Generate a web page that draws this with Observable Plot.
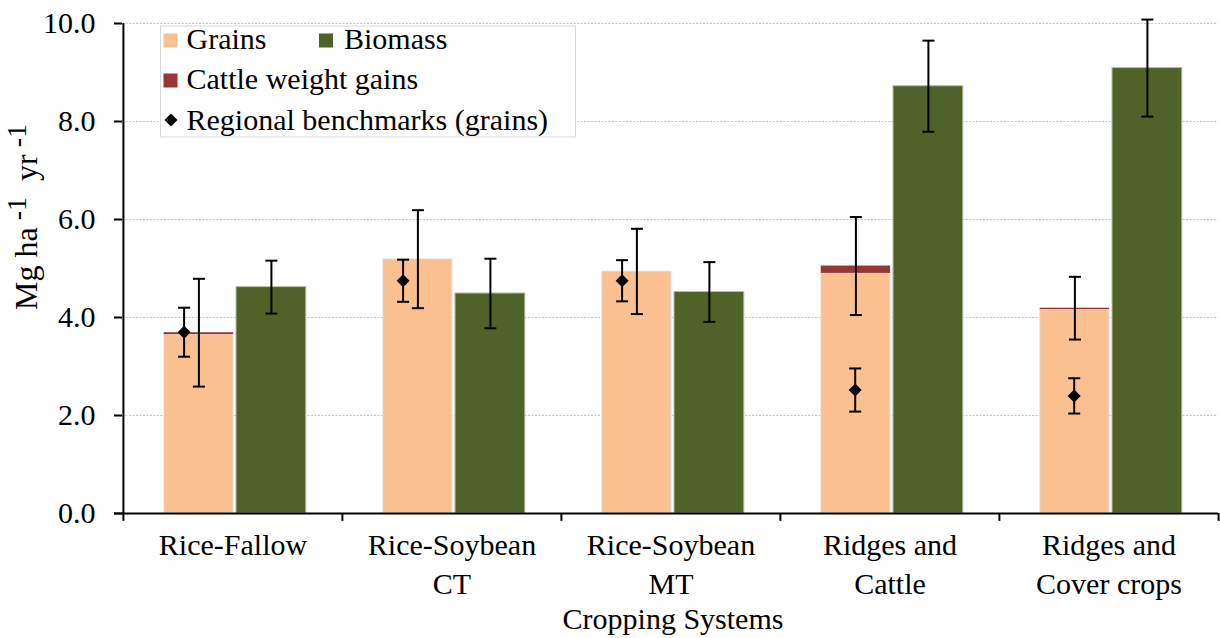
<!DOCTYPE html>
<html>
<head>
<meta charset="utf-8">
<script src="https://cdn.jsdelivr.net/npm/d3@7"></script>
<script src="https://cdn.jsdelivr.net/npm/@observablehq/plot@0.6"></script>
<style>
  html, body { margin: 0; padding: 0; background: #fff; }
  #chart { width: 1220px; height: 638px; }
  #chart svg, #chart svg text { font-family: "Liberation Serif", "Times New Roman", Tinos, "DejaVu Serif", serif !important; }
</style>
</head>
<body>
<div id="chart"></div>
<script>
// Cropping systems and their two-line axis labels
const systems = ["Rice-Fallow", "Rice-Soybean CT", "Rice-Soybean MT", "Ridges and Cattle", "Ridges and Cover crops"];
const systemLabels = ["Rice-Fallow", "Rice-Soybean\nCT", "Rice-Soybean\nMT", "Ridges and\nCattle", "Ridges and\nCover crops"];

// Yields, Mg ha-1 yr-1
const grains = [3.65, 5.19, 4.94, 4.90, 4.16];
const cattleGains = [0.04, 0, 0, 0.15, 0.03];
const grainErr = [1.10, 1.00, 0.87, 1.00, 0.64];   // error on grains + cattle total
const biomass = [4.62, 4.49, 4.52, 8.72, 9.09];
const biomassErr = [0.54, 0.71, 0.61, 0.93, 0.99];
const benchmarks = [3.70, 4.75, 4.75, 2.52, 2.40];
const benchmarkErr = [0.50, 0.43, 0.42, 0.44, 0.36];

const yTicks = [0, 2, 4, 6, 8, 10];

const colors = {grains: "#FAC090", biomass: "#4F6228", cattle: "#953735"};

const rows = systems.map((s, i) => ({
  system: s,
  label: systemLabels[i],
  grain: grains[i],
  cattle: cattleGains[i],
  total: grains[i] + cattleGains[i],
  grainErr: grainErr[i],
  biomass: biomass[i],
  biomassErr: biomassErr[i],
  bench: benchmarks[i],
  benchErr: benchmarkErr[i],
  idx: i
}));

const W = 1220, H = 638;
const M = {top: 23, right: 2, bottom: 125, left: 122};
const bw = (W - M.left - M.right) / systems.length;

// bar placement inside each category band (pixels from band start)
const grainIn = [40.7, 110.3], bioIn = [113, 183];
const grainDx = (grainIn[0] + grainIn[1]) / 2 - bw / 2;
const bioDx = (bioIn[0] + bioIn[1]) / 2 - bw / 2;
const benchDxA = 60.7 - bw / 2;   // shifted left of the grain error bar
const benchDxB = 74.8 - bw / 2;   // below the grain error bar

// symbols: a horizontal error-bar cap and a square diamond
const capSymbol = {draw(ctx, size) { const r = Math.sqrt(size / Math.PI); ctx.moveTo(-r, 0); ctx.lineTo(r, 0); }};
const diamondSymbol = {draw(ctx, size) { const r = Math.sqrt(size / Math.PI); ctx.moveTo(0, -r); ctx.lineTo(r, 0); ctx.lineTo(0, r); ctx.lineTo(-r, 0); ctx.closePath(); }};

function errorBar(data, center, err, dx) {
  return [
    Plot.ruleX(data, {x: "system", y1: d => center(d) - err(d), y2: d => center(d) + err(d), dx, stroke: "#000", strokeWidth: 2}),
    Plot.dot(data, {x: "system", y: d => center(d) + err(d), dx, symbol: capSymbol, r: 6, fill: "none", stroke: "#000", strokeWidth: 2}),
    Plot.dot(data, {x: "system", y: d => center(d) - err(d), dx, symbol: capSymbol, r: 6, fill: "none", stroke: "#000", strokeWidth: 2})
  ];
}

const benchA = rows.filter(d => d.idx < 3);
const benchB = rows.filter(d => d.idx >= 3);

const font = "'Liberation Serif', 'Times New Roman', Tinos, 'DejaVu Serif', serif";

const svgPlot = Plot.plot({
  width: W,
  height: H,
  marginTop: M.top,
  marginRight: M.right,
  marginBottom: M.bottom,
  marginLeft: M.left,
  x: {type: "band", domain: systems, padding: 0, axis: null},
  y: {domain: [0, 10], axis: null},
  style: {fontFamily: font, fontSize: "30px", background: "#fff", color: "#000", overflow: "visible"},
  marks: [
    // dotted horizontal gridlines
    Plot.ruleY(yTicks.filter(t => t > 0), {y: d => d, stroke: "#c4c4c4", strokeWidth: 1.2, strokeDasharray: "2,1.5"}),
    // bars
    Plot.barY(rows, {x: "system", y1: 0, y2: "grain", fill: colors.grains, insetLeft: grainIn[0], insetRight: bw - grainIn[1], stroke: "#ececec", strokeWidth: 1}),
    Plot.barY(rows.filter(d => d.cattle > 0), {x: "system", y1: "grain", y2: "total", fill: colors.cattle, insetLeft: grainIn[0], insetRight: bw - grainIn[1]}),
    Plot.barY(rows, {x: "system", y1: 0, y2: "biomass", fill: colors.biomass, insetLeft: bioIn[0], insetRight: bw - bioIn[1], stroke: "#b8bca8", strokeWidth: 1}),
    // error bars
    ...errorBar(rows, d => d.total, d => d.grainErr, grainDx),
    ...errorBar(rows, d => d.biomass, d => d.biomassErr, bioDx),
    ...errorBar(benchA, d => d.bench, d => d.benchErr, benchDxA),
    ...errorBar(benchB, d => d.bench, d => d.benchErr, benchDxB),
    // regional benchmark diamonds
    Plot.dot(benchA, {x: "system", y: "bench", dx: benchDxA, symbol: diamondSymbol, r: 6.5, fill: "#000", stroke: "none"}),
    Plot.dot(benchB, {x: "system", y: "bench", dx: benchDxB, symbol: diamondSymbol, r: 6.5, fill: "#000", stroke: "none"}),
    // axes
    Plot.ruleX([systems[0]], {x: d => d, dx: -bw / 2, y1: 0, y2: 10, stroke: "#000", strokeWidth: 2}),
    Plot.ruleY([0], {y: d => d, insetLeft: -8, stroke: "#000", strokeWidth: 2}),
    Plot.ruleY(yTicks, {y: d => d, insetLeft: -8, insetRight: W - M.left - M.right, stroke: "#000", strokeWidth: 2}),
    Plot.text(yTicks, {y: d => d, text: d => d.toFixed(1), frameAnchor: "left", dx: -27, textAnchor: "end", fill: "#000"}),
    Plot.ruleX(systems, {x: d => d, dx: -bw / 2, y1: 0, y2: -0.16, stroke: "#000", strokeWidth: 2}),
    Plot.ruleX([systems[systems.length - 1]], {x: d => d, dx: bw / 2, y1: 0, y2: -0.16, stroke: "#000", strokeWidth: 2}),
    Plot.text(rows, {x: "system", y: 0, text: "label", lineAnchor: "top", dy: 14, lineHeight: 1.29, fill: "#000"})
  ]
});

document.getElementById("chart").appendChild(svgPlot);

const svg = d3.select(svgPlot);

// axis titles
const yTitle = svg.append("text")
  .attr("transform", "translate(37,217) rotate(-90)")
  .attr("text-anchor", "middle")
  .attr("fill", "#000")
  .attr("xml:space", "preserve")
  .style("white-space", "pre")
  .style("font-size", "32px");
yTitle.append("tspan").text("Mg ha");
yTitle.append("tspan").attr("dy", -11).style("font-size", "28px").text(" -1");
yTitle.append("tspan").attr("dy", 11).text("  yr");
yTitle.append("tspan").attr("dy", -11).style("font-size", "28px").text(" -1");

svg.append("text")
  .attr("x", 673).attr("y", 629)
  .attr("text-anchor", "middle")
  .attr("fill", "#000")
  .style("font-size", "30px")
  .text("Cropping Systems");

// legend
const lg = svg.append("g").attr("text-anchor", "start").style("font-size", "30px");
lg.append("rect").attr("x", 160.5).attr("y", 26).attr("width", 415).attr("height", 111)
  .attr("fill", "#fff").attr("stroke", "#d9d9d9").attr("stroke-width", 1);
const swatches = [
  {x: 163.5, y: 33.5, color: colors.grains, text: "Grains", tx: 186.5, ty: 49},
  {x: 319, y: 33.5, color: colors.biomass, text: "Biomass", tx: 344, ty: 49},
  {x: 163.5, y: 73.5, color: colors.cattle, text: "Cattle weight gains", tx: 186.5, ty: 89}
];
for (const s of swatches) {
  lg.append("rect").attr("x", s.x).attr("y", s.y).attr("width", 14).attr("height", 14).attr("fill", s.color);
  lg.append("text").attr("x", s.tx).attr("y", s.ty).attr("text-anchor", "start").attr("fill", "#000").text(s.text);
}
lg.append("path").attr("d", "M171,113.5L177.5,120L171,126.5L164.5,120Z").attr("fill", "#000");
lg.append("text").attr("x", 186.5).attr("y", 130).attr("text-anchor", "start").attr("fill", "#000").text("Regional benchmarks (grains)");
</script>
</body>
</html>
